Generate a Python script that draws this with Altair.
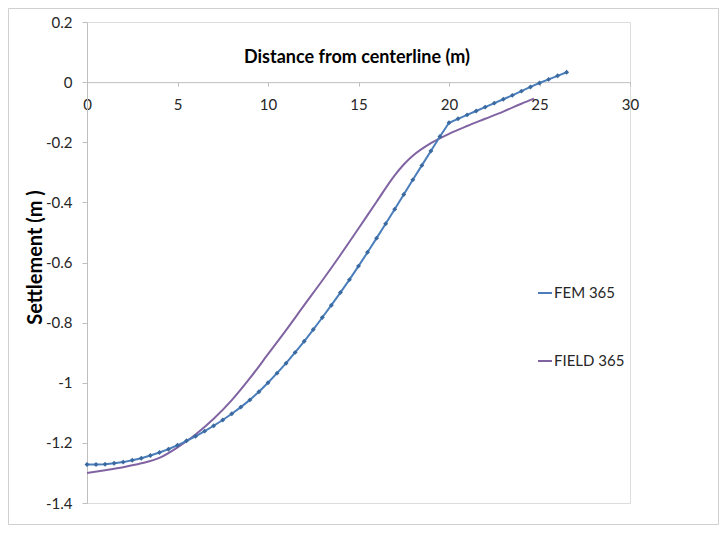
import altair as alt
import pandas as pd

# FEM 365 series (with markers)
fem_x = [0, 0.5, 1, 1.5, 2, 2.5, 3, 3.5, 4, 4.5, 5, 5.5, 6, 6.5, 7, 7.5, 8, 8.5, 9, 9.5,
         10, 10.5, 11, 11.5, 12, 12.5, 13, 13.5, 14, 14.5, 15, 15.5, 16, 16.5, 17, 17.5,
         18, 18.5, 19, 19.5, 20, 20.5, 21, 21.5, 22, 22.5, 23, 23.5, 24, 24.5, 25, 25.5,
         26, 26.5]
fem_y = [-1.272, -1.272, -1.271, -1.268, -1.264, -1.258, -1.251, -1.242, -1.232, -1.221,
         -1.208, -1.193, -1.178, -1.161, -1.143, -1.124, -1.103, -1.081, -1.057, -1.030,
         -1.000, -0.968, -0.935, -0.899, -0.862, -0.823, -0.783, -0.742, -0.700, -0.657,
         -0.612, -0.566, -0.519, -0.471, -0.423, -0.374, -0.325, -0.277, -0.229, -0.181,
         -0.135, -0.122, -0.109, -0.096, -0.083, -0.070, -0.057, -0.044, -0.030, -0.016,
         -0.003, 0.009, 0.021, 0.033]

# FIELD 365 series (smooth line)
field_x = [0, 1, 2, 3, 4, 5, 6, 7, 8, 9, 10, 11, 12, 13, 14, 15, 16, 17, 17.5, 18, 19, 20,
           21, 22, 23, 24, 24.7]
field_y = [-1.300, -1.291, -1.281, -1.268, -1.250, -1.215, -1.172, -1.120, -1.058, -0.985,
           -0.905, -0.825, -0.742, -0.660, -0.575, -0.487, -0.398, -0.310, -0.274, -0.245,
           -0.203, -0.172, -0.146, -0.122, -0.098, -0.072, -0.055]

series_names = ["FEM 365", "FIELD 365"]
series_colors = ["#4A7EBB", "#8064A2"]
x_ticks = [0, 5, 10, 15, 20, 25, 30]
y_ticks = [0.2, 0, -0.2, -0.4, -0.6, -0.8, -1, -1.2, -1.4]

fem_df = pd.DataFrame({"x": fem_x, "y": fem_y, "series": series_names[0]})
field_df = pd.DataFrame({"x": field_x, "y": field_y, "series": series_names[1]})

W, H = 543, 481
FONT = "Lato"
y_dom = [-1.4, 0.2]
zero_from_bottom = H * (0 - y_dom[0]) / (y_dom[1] - y_dom[0])

x_enc = alt.X(
    "x:Q",
    scale=alt.Scale(domain=[0, 30], nice=False),
    axis=alt.Axis(
        values=x_ticks, orient="bottom", offset=-zero_from_bottom, grid=False,
        title="Distance from centerline (m)", titleX=W / 2 - 2, titleY=-25,
        titleBaseline="middle", titleAlign="center", titleFont=FONT,
        titleFontSize=18, titleFontWeight="bold", titleColor="#000000",
        domainColor="#BFBFBF", tickColor="#BFBFBF", tickSize=4,
        labelPadding=11, labelFont=FONT, labelFontSize=15, labelColor="#262626",
        labelFlush=False, labelOverlap=False,
    ),
)
y_enc = alt.Y(
    "y:Q",
    scale=alt.Scale(domain=y_dom, nice=False, zero=False),
    axis=alt.Axis(
        values=y_ticks, grid=False,
        labelExpr="datum.value == 0 ? '0' : (datum.value < 0 ? '-' : '') + format(abs(datum.value), '~g')",
        title="Settlement (m )", titleX=-52, titleY=235, titleAngle=-90,
        titleAlign="center", titleBaseline="middle", titleFont=FONT,
        titleFontSize=20, titleFontWeight="bold", titleColor="#000000",
        domainColor="#BFBFBF", tickColor="#BFBFBF", tickSize=5,
        labelPadding=10, labelFont=FONT, labelFontSize=15, labelColor="#262626",
        labelOverlap=False,
    ),
)

color_enc = alt.Color(
    "series:N",
    scale=alt.Scale(domain=series_names, range=series_colors),
    legend=alt.Legend(
        orient="none", legendX=450, legendY=263, title=None,
        symbolType="stroke", symbolSize=196, symbolStrokeWidth=2,
        labelFont=FONT, labelFontSize=15, labelColor="#262626",
        labelOffset=1, rowPadding=52,
    ),
)

field_line = alt.Chart(field_df).mark_line(strokeWidth=2, interpolate="monotone").encode(
    x=x_enc, y=y_enc, color=color_enc
)
fem_line = alt.Chart(fem_df).mark_line(strokeWidth=2).encode(
    x=x_enc, y=y_enc, color=color_enc
)
fem_pts = alt.Chart(fem_df).mark_point(
    shape="diamond", filled=True, size=24, opacity=1
).encode(x=x_enc, y=y_enc, color=alt.value("#3A6A9F"))

border = alt.Chart(pd.DataFrame({"a": [0]})).mark_rect(
    filled=False, stroke="#D0D0D0", strokeWidth=1
).encode(
    x=alt.value(-78.5), x2=alt.value(631.5), y=alt.value(-13.5), y2=alt.value(502.5)
)

chart = alt.layer(border, field_line, fem_line, fem_pts).properties(
    width=W, height=H,
    padding={"left": 79, "top": 14, "right": 89, "bottom": 23},
    autosize="none",
).configure_view(stroke=None).configure(background="#FFFFFF")

chart.save("out.html", embed_options={"renderer": "svg", "actions": False})
